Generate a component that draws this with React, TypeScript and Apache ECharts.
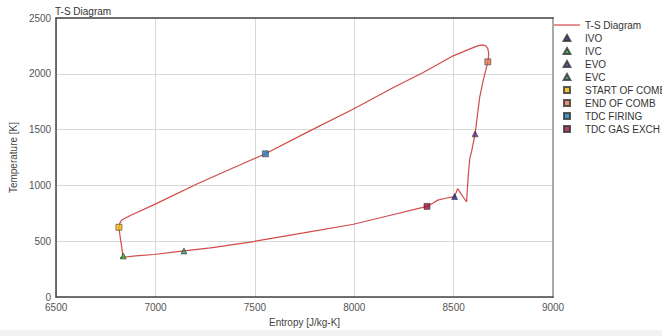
import React, { useEffect, useRef } from "react";
import * as echarts from "echarts";

const entropy: number[] = [
  6836, 6830, 6822, 6816, 6820, 6830, 6876, 6993, 7211, 7361, 7553, 7779, 7996, 8197, 8347, 8498,
  8598, 8625, 8645, 8662, 8672, 8677, 8672, 8650, 8631, 8608, 8590, 8581, 8573, 8565, 8520, 8505,
  8460, 8420, 8395, 8366, 8146, 7996, 7745, 7494, 7277, 7143, 6993, 6900, 6836, 6822,
];
const temperature: number[] = [
  356, 450, 538, 625, 660, 690, 732, 828, 1015, 1134, 1283, 1491, 1685, 1878, 2012, 2161,
  2235, 2252, 2259, 2250, 2225, 2176, 2107, 1950, 1789, 1462, 1300, 1238, 1074, 851, 971, 900,
  885, 868, 840, 812, 717, 652, 574, 497, 440, 413, 381, 368, 356, 352,
];

const eventNames: string[] = [
  "IVO", "IVC", "EVO", "EVC", "START OF COMB", "END OF COMB", "TDC FIRING", "TDC GAS EXCH",
];
const eventEntropy: number[] = [8505, 6838, 8608, 7143, 6816, 8672, 7553, 8366];
const eventTemperature: number[] = [900, 368, 1462, 413, 625, 2107, 1283, 812];
const eventSymbols: string[] = ["triangle", "triangle", "triangle", "triangle", "rect", "rect", "rect", "rect"];
const eventColors: string[] = ["#1c1c8e", "#22b022", "#5b2a8c", "#2e8b57", "#f5b800", "#e07850", "#1f78b4", "#9b1040"];

const xTicks = { min: 6500, max: 9000, interval: 500 };
const yTicks = { min: 0, max: 2500, interval: 500 };

const legendIcons: Record<string, string> = {
  triangle: "path://M5,0L10,9L0,9Z",
  rect: "path://M0,0H10V10H0Z",
  line: "path://M0,0H26V1.2H0Z",
};

export default function App() {
  const ref = useRef<HTMLDivElement>(null);
  useEffect(() => {
    document.body.style.margin = "0";
    const chart = echarts.init(ref.current!, null, { renderer: "svg" });
    const font = "Liberation Sans, Arial, sans-serif";
    const series: any[] = [
      {
        name: "T-S Diagram",
        type: "line",
        data: entropy.map((s, i) => [s, temperature[i]]),
        symbol: "none",
        lineStyle: { color: "#d24a4a", width: 1.2 },
        itemStyle: { color: "#d24a4a" },
        z: 2,
      },
    ];
    eventNames.forEach((n, i) => {
      series.push({
        name: n,
        type: "scatter",
        data: [[eventEntropy[i], eventTemperature[i]]],
        symbol: eventSymbols[i],
        symbolSize: 6,
        itemStyle: { color: eventColors[i], borderColor: "#333", borderWidth: 0.7 },
        z: 3,
      });
    });
    chart.setOption({
      animation: false,
      backgroundColor: "#ffffff",
      title: {
        text: "T-S Diagram",
        left: 50,
        top: 1,
        textStyle: { fontSize: 10, fontWeight: "normal", color: "#333", fontFamily: font },
      },
      grid: { left: 55, right: 109, top: 18, bottom: 39, containLabel: false },
      legend: {
        orient: "vertical",
        left: 554,
        top: 19,
        padding: 0,
        itemWidth: 26,
        itemHeight: 6,
        itemGap: 1,
        symbolKeepAspect: true,
        textStyle: { fontSize: 10, color: "#333", fontFamily: font, lineHeight: 12 },
        data: [
          { name: "T-S Diagram", icon: legendIcons.line },
          ...eventNames.map((n, i) => ({ name: n, icon: legendIcons[eventSymbols[i]] })),
        ],
      },
      xAxis: [
        {
          type: "value",
          min: xTicks.min,
          max: xTicks.max,
          interval: xTicks.interval,
          name: "Entropy [J/kg-K]",
          nameLocation: "middle",
          nameGap: 20,
          nameTextStyle: { fontSize: 10, color: "#444", fontFamily: font },
          axisLine: { show: true, lineStyle: { color: "#444", width: 1.5 } },
          axisTick: { show: false },
          axisLabel: { fontSize: 10, color: "#555", fontFamily: font, margin: 5, formatter: (v: number) => String(v) },
          splitLine: { show: true, lineStyle: { color: "#d8d8d8", width: 1 } },
        },
        {
          type: "value",
          position: "top",
          min: xTicks.min,
          max: xTicks.max,
          axisLine: { show: true, onZero: false, lineStyle: { color: "#444", width: 1.5 } },
          axisTick: { show: false },
          axisLabel: { show: false },
          splitLine: { show: false },
        },
      ],
      yAxis: [
        {
          type: "value",
          min: yTicks.min,
          max: yTicks.max,
          interval: yTicks.interval,
          name: "Temperature [K]",
          nameLocation: "middle",
          nameGap: 36,
          nameTextStyle: { fontSize: 10, color: "#444", fontFamily: font },
          axisLine: { show: true, lineStyle: { color: "#444", width: 1.5 } },
          axisTick: { show: false },
          axisLabel: { fontSize: 10, color: "#555", fontFamily: font, margin: 5, formatter: (v: number) => String(v) },
          splitLine: { show: true, lineStyle: { color: "#d8d8d8", width: 1 } },
        },
        {
          type: "value",
          position: "right",
          min: yTicks.min,
          max: yTicks.max,
          axisLine: { show: true, onZero: false, lineStyle: { color: "#aaa", width: 2 } },
          axisTick: { show: false },
          axisLabel: { show: false },
          splitLine: { show: false },
        },
      ],
      graphic: [
        {
          type: "rect",
          shape: { x: 0, y: 330, width: 662, height: 6 },
          style: { fill: "#f2f2f2" },
          silent: true,
        },
      ],
      series,
    });
    return () => chart.dispose();
  }, []);
  return <div ref={ref} style={{ width: 662, height: 336 }} />;
}
